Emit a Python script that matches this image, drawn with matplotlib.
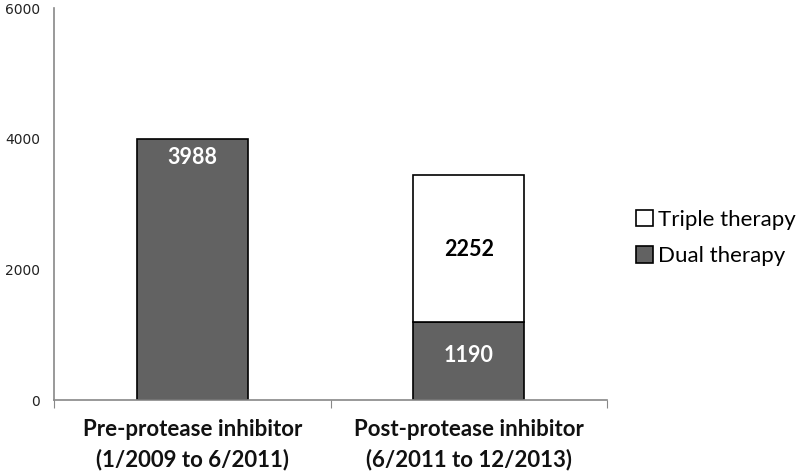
import matplotlib.pyplot as plt

categorias = ['Pre-protease inhibitor\n(1/2009 to 6/2011)', 'Post-protease inhibitor\n(6/2011 to 12/2013)']
dual = [3988, 1190]
triple = [0, 2252]
yticks = [0, 2000, 4000, 6000]

plt.rcParams['font.family'] = ['Lato', 'DejaVu Sans']

fig = plt.figure(figsize=(8, 4.75), dpi=100)
ax = fig.add_axes([54 / 800, 75 / 475, 553 / 800, 392 / 475])

x = [0, 1]
cor_escura = '#626262'
b1 = ax.bar(x, dual, width=0.4, color=cor_escura, edgecolor='black', linewidth=1.2, label='Dual therapy')
b2 = ax.bar(x[1:], triple[1:], width=0.4, bottom=dual[1:], color='white', edgecolor='black',
            linewidth=1.2, label='Triple therapy')

# rótulos dos valores
ax.text(x[0], dual[0] - 270, str(dual[0]), ha='center', va='center', color='white',
        fontsize=15.5, fontweight='bold')
ax.text(x[1], dual[1] / 2 + 90, str(dual[1]), ha='center', va='center', color='white',
        fontsize=15.5, fontweight='bold')
ax.text(x[1], dual[1] + triple[1] / 2 - 20, str(triple[1]), ha='center', va='center', color='black',
        fontsize=15.5, fontweight='bold')

ax.set_xlim(-0.5, 1.5)
ax.set_ylim(0, 6000)
ax.set_yticks(yticks)
ax.set_yticklabels([str(v) for v in yticks], fontsize=10, color='#222222', family=['DejaVu Sans'])
ax.tick_params(axis='y', length=0, pad=10)
ax.set_xticks([-0.5, 0.5, 1.5], minor=False)
ax.set_xticklabels(['', '', ''])
ax.tick_params(axis='x', length=6, color='#888888', direction='out')
ax.set_xticks(x, minor=True)
ax.set_xticklabels(categorias, minor=True, fontsize=16, fontweight='bold', color='#111111',
                   linespacing=1.45)
ax.tick_params(axis='x', which='minor', length=0, pad=14)

for s in ['top', 'right']:
    ax.spines[s].set_visible(False)
for s in ['left', 'bottom']:
    ax.spines[s].set_color('#888888')
    ax.spines[s].set_linewidth(1.2)

handles = [b2, b1]
leg = fig.legend(handles, ['Triple therapy', 'Dual therapy'], loc='center left',
                 bbox_to_anchor=(636 / 800, 1 - 238 / 475), frameon=False, fontsize=16,
                 borderpad=0, borderaxespad=0,
                 handlelength=0.75, handleheight=0.75, handletextpad=0.25, labelspacing=0.75)

fig.savefig('out.png', dpi=100)
